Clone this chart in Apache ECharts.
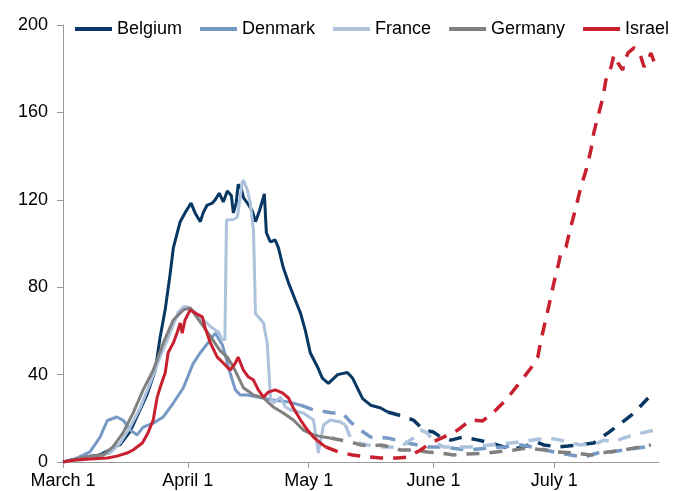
<!DOCTYPE html>
<html>
<head>
<meta charset="utf-8">
<script src="https://cdn.jsdelivr.net/npm/echarts@6/dist/echarts.min.js"></script>
<style>
  html, body { margin: 0; padding: 0; background: #fff; }
  #chart { width: 673px; height: 491px; }
</style>
</head>
<body>
<div id="chart"></div>
<script>
// x = days since March 1
const tickDays = [0, 31, 61, 92, 122];
const tickLabels = ['March 1', 'April 1', 'May 1', 'June 1', 'July 1'];

const countries = ['Belgium', 'Denmark', 'France', 'Germany', 'Israel'];
const colors = ['#073763', '#7699c5', '#adc2dc', '#808080', '#c8202f'];

const belgiumSolid = [[0,0],[4,1.8],[9,3.2],[14.2,8],[16.7,14],[18.4,21],[20.9,31],[22.9,42],[24.1,57],[25.4,70],[26.6,86],[27.4,98],[29.1,110],[30.3,114],[31.8,118.5],[32.8,114],[34.1,110],[34.8,114],[35.8,117.6],[37.1,118.5],[37.8,120],[38.8,123],[39.8,119],[40.8,124],[41.8,122],[42.3,114],[43,118.5],[43.5,127],[44.3,125],[44.8,121],[45.8,118.5],[47,115],[47.8,110],[48.8,115],[50,122.7],[50.5,105],[51.5,100.7],[52.7,101.6],[53.5,98],[54.7,89],[56,82],[57.7,74],[59,68],[60.2,60],[61.4,50],[63.2,43.5],[64.4,38.4],[65.9,36],[68.2,40],[70.6,41],[71.9,38.4],[74.4,29],[76.4,26],[78.9,24.7],[80.6,22.9]];
const belgiumDashed = [[80.6,22.9],[83.3,21.5],[87,19.2],[89.6,14.6],[92,13.7],[93.8,11.4],[96.3,10],[99.3,11.4],[103.2,10],[106.2,8.7],[110.4,6.4],[113.7,6.4],[117.4,9.2],[119.4,7.8],[122.9,6.9],[125.4,7.3],[128.1,7.8],[131.8,8.7],[135.6,13.7],[138.6,17.8],[141.8,22.4],[145.3,29.3]];

const denmarkSolid = [[0,0],[2.5,1],[6.7,4.6],[9.2,11.4],[11,19],[13.4,20.6],[15,19],[16.7,14.6],[18.4,12.4],[19.9,16],[22.4,17.8],[24.9,20.6],[27.4,27],[29.9,34],[32.3,45],[34.1,50],[36.6,56],[37.8,59],[39.6,53.5],[41.5,40.7],[42.8,33],[44,30.7],[45.8,30.7],[48.3,29.7],[52.2,28.4],[56,27.5],[59,26]];
const denmarkDashed = [[59,26],[62,24],[67,22.4],[69.4,22.4],[71.4,18.3],[73.9,14.6],[76.4,11.4],[80.6,11],[85.6,8.7],[90.5,6.9],[93.8,6.9],[100.5,5.5],[105.5,6.4],[109.5,6.9],[113.7,7.8],[117.9,6.4],[121.9,4.6],[126.1,3.2],[129.4,2.3],[132.8,4.1],[136.1,4.6],[139.3,5.5],[146,7.3]];

const franceSolid = [[0,0],[5,1],[11.7,4.1],[14.2,8.7],[16.7,16],[19.2,25],[21.6,36],[24.1,48],[26.6,59],[28.6,68.6],[29.9,71],[30.8,71],[32.8,68.6],[34.8,65],[37.1,61.3],[38.6,59.5],[39.6,55.8],[40.2,56],[40.6,110.8],[42.3,111],[43.3,112],[44.5,128],[44.8,129],[45.8,124.5],[46.5,118.5],[47.3,106],[47.8,68],[49.8,63.6],[50.7,54.5],[51.5,29.7],[52.2,27],[54,29.7],[55.2,25.2],[56.5,23.8],[59.7,22.4],[62.2,19.2],[63.4,4.1],[64.7,17],[66.4,19.2],[68.9,18.3],[70.1,17]];
const franceDashed = [[70.1,17],[71.4,11],[73.4,8.7],[75.6,7.8],[79.6,6.9],[83.8,6.9],[87,11],[88.8,14.6],[90.5,13.3],[92,9.2],[94.5,6.9],[98,6.9],[101.2,6.9],[106.2,7.8],[111.2,8.7],[116.2,10],[120.6,11],[123.6,10],[126.1,8.7],[128.6,7.8],[132.8,8.7],[134.3,10],[136.8,9.2],[139.3,11],[141.8,12.4],[146.8,14.6]];

const germanySolid = [[0,0],[2.5,1],[6.7,2.7],[10,3.2],[12.4,6.9],[14.9,13.3],[17.4,22.4],[19.9,33],[22.4,42],[24.9,54.5],[27.4,65],[29.9,69.6],[31.6,70.5],[34.1,64],[36.6,57.5],[39,51],[40.8,48],[42.3,43.5],[44.8,34],[47.3,30.7],[49.8,29.3],[52.2,25.2],[54.7,22.4],[57.2,19.2],[59.7,14.6],[62.2,12.4],[64.7,11.4],[66.4,11]];
const germanyDashed = [[66.4,11],[71.4,9.2],[74,7.8],[76.4,7.3],[78.9,7.8],[81.3,6.9],[83.8,5.5],[87,5.5],[90.5,4.6],[93.8,4.1],[97,3.2],[100.5,3.7],[105.5,4.1],[112,5.5],[115.4,6.4],[119.4,5.5],[122.9,4.6],[126.9,4.1],[131,3.2],[135.3,4.6],[139.3,5.5],[143.5,6.9],[146,7.8]];

const israelSolid = [[0,0],[3.5,1],[6.7,1.4],[11,1.8],[13.4,2.7],[15.9,4.1],[17.4,5.5],[19.7,8.7],[21.1,13.3],[22.4,19.2],[23.4,29.7],[24.1,34],[25.4,41],[26.1,50],[27.4,54.5],[28.4,59.5],[29.1,63.6],[29.6,59],[30.3,65],[31.6,69.6],[32.8,68.2],[34.6,66.4],[35.3,61.3],[36.6,54.5],[38.3,48],[39.8,45.3],[41.5,42],[42.8,45.3],[43.5,48],[44.8,42],[46,39],[47.3,37.5],[48.5,33],[49.8,29.7],[51,32],[52.7,33],[54.5,31.6],[56,29.3],[57.2,24.7],[59,19.2],[60.7,14.6],[62.2,11.4],[63.9,8.7],[65.2,6.9]];
const israelDashed = [[65.2,6.9],[68.4,4.6],[71.9,3.2],[75.9,2.3],[78.9,1.8],[83.1,1.8],[85.6,2.3],[88.8,5.5],[91.3,8.7],[94.5,11.4],[98,14.6],[101.2,19.2],[104.2,18.8],[107,22.9],[110,28.4],[113.7,37],[116.2,43],[117.9,48],[118.7,55.8],[120.6,71],[121.9,82],[123.1,91],[123.6,95.7],[124.9,98.4],[126.1,107.6],[127.4,116.7],[128.6,125.9],[129.9,133.6],[131.1,142.8],[131.8,150.6],[132.8,157.9],[134.1,167],[134.8,174.8],[136.1,180.8],[136.8,186.3],[137.8,182.6],[139,179.4],[139.3,182.6],[140.3,187.2],[141.8,189.5],[142.8,188.6],[143.5,185.4],[144.3,180.8],[145.3,184],[146,187.2],[146.8,183]];

const solidData = [belgiumSolid, denmarkSolid, franceSolid, germanySolid, israelSolid];
const dashedData = [belgiumDashed, denmarkDashed, franceDashed, germanyDashed, israelDashed];

const font = "'Liberation Sans', Arial, sans-serif";

const series = [];
countries.forEach((name, i) => {
  series.push({
    name: name,
    type: 'line',
    data: solidData[i],
    symbol: 'none',
    color: colors[i],
    lineStyle: { width: 3, color: colors[i] },
    z: 2 + i,
  });
  series.push({
    name: name + ' dashed',
    type: 'line',
    data: dashedData[i],
    symbol: 'none',
    color: colors[i],
    lineStyle: { width: 3.5, color: colors[i], type: [13, 10] },
    z: 2 + i,
  });
});

const myChart = echarts.init(document.getElementById('chart'));
myChart.setOption({
  animation: false,
  backgroundColor: '#fff',
  grid: { left: 63, right: 14, top: 25, bottom: 29 },
  legend: {
    data: countries,
    left: 70,
    top: 15,
    width: 640,
    icon: 'rect',
    itemWidth: 37,
    itemHeight: 4,
    itemGap: 18,
    textStyle: { fontSize: 18, color: '#000', fontFamily: font },
  },
  xAxis: {
    type: 'value',
    min: 0,
    max: 148,
    splitLine: { show: false },
    axisLine: { lineStyle: { color: '#999', width: 1 } },
    axisTick: { show: true, length: 6, customValues: tickDays, lineStyle: { color: '#999' } },
    axisLabel: {
      customValues: tickDays,
      formatter: v => tickLabels[tickDays.indexOf(v)],
      fontSize: 18,
      color: '#000',
      fontFamily: font,
      margin: 10,
    },
  },
  yAxis: {
    type: 'value',
    min: 0,
    max: 200,
    interval: 40,
    splitLine: { show: false },
    axisLine: { show: true, lineStyle: { color: '#999', width: 1 } },
    axisTick: { show: true, length: 6, lineStyle: { color: '#999' } },
    axisLabel: { fontSize: 18, color: '#000', fontFamily: font, margin: 15 },
  },
  series: series,
});
</script>
</body>
</html>
